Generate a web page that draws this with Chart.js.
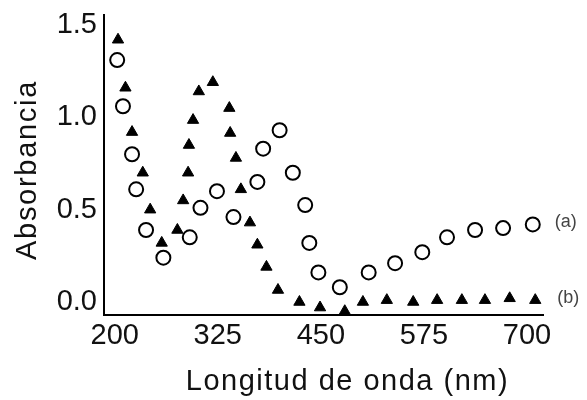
<!DOCTYPE html>
<html>
<head>
<meta charset="utf-8">
<script src="https://cdn.jsdelivr.net/npm/chart.js@4.4.1/dist/chart.umd.min.js"></script>
<style>
  body { margin: 0; background: #fff; }
</style>
</head>
<body>
<canvas id="myChart" width="587" height="400"></canvas>
<script>
// series (a): open circles
var waveA = [203, 210, 221, 226, 238, 259, 291, 304, 324, 344, 373, 380, 400, 416, 431, 436, 447, 473, 508, 540, 573, 603, 637, 671, 707];
var absA  = [1.31, 1.06, 0.80, 0.61, 0.39, 0.24, 0.35, 0.51, 0.60, 0.46, 0.65, 0.83, 0.93, 0.70, 0.525, 0.32, 0.16, 0.08, 0.16, 0.21, 0.27, 0.35, 0.39, 0.40, 0.42];

// series (b): filled triangles
var waveB = [204, 213, 221, 234, 243, 257, 276, 283, 289, 290, 295, 302, 319, 339, 340, 347, 353, 364, 373, 384, 398, 424, 449, 479, 501, 530, 562, 591, 621, 649, 679, 710];
var absB  = [1.42, 1.16, 0.92, 0.70, 0.50, 0.32, 0.39, 0.55, 0.70, 0.85, 0.985, 1.14, 1.19, 1.05, 0.915, 0.78, 0.61, 0.43, 0.31, 0.19, 0.065, 0.0, -0.03, -0.05, 0.0, 0.01, 0.0, 0.01, 0.01, 0.01, 0.02, 0.01];

var seriesNames = ['(a)', '(b)'];
var xTicks = [200, 325, 450, 575, 700];
var yTicks = [0, 0.5, 1.0, 1.5];
var xTitle = 'Longitud de onda (nm)';
var yTitle = 'Absorbancia';

function toPoints(xs, ys) {
    var pts = [];
    for (var i = 0; i < xs.length; i++) {
        pts.push({x: xs[i], y: ys[i]});
    }
    return pts;
}

// axis titles (drawn by hand so the letter spacing can be widened) and (a)/(b) tags
var extraText = {
    id: 'extraText',
    afterDraw: function (chart) {
        var ctx = chart.ctx;
        var area = chart.chartArea;
        ctx.save();
        ctx.fillStyle = '#111';
        ctx.textAlign = 'center';
        ctx.textBaseline = 'middle';
        ctx.font = '29px "Liberation Sans", Arial, sans-serif';
        ctx.letterSpacing = '1.5px';
        ctx.fillText(xTitle, (area.left + area.right) / 2 + 24, 382);

        ctx.translate(28, (area.top + area.bottom) / 2 + 5);
        ctx.rotate(-Math.PI / 2);
        ctx.letterSpacing = '1.7px';
        ctx.fillText(yTitle, 0, 0);
        ctx.restore();

        ctx.save();
        ctx.font = '18px "Liberation Sans", Arial, sans-serif';
        ctx.fillStyle = '#444';
        ctx.textAlign = 'left';
        ctx.textBaseline = 'middle';
        chart.data.datasets.forEach(function (ds, i) {
            var meta = chart.getDatasetMeta(i);
            var last = meta.data[meta.data.length - 1];
            ctx.fillText(ds.label, last.x + 22, last.y - 2);
        });
        ctx.restore();
    }
};

var ctx = document.getElementById('myChart').getContext('2d');
var myChart = new Chart(ctx, {
    type: 'scatter',
    data: {
        datasets: [{
            label: seriesNames[0],
            data: toPoints(waveA, absA),
            pointStyle: 'circle',
            pointRadius: 7,
            pointBorderWidth: 2,
            pointBorderColor: '#000',
            pointBackgroundColor: '#fff',
            clip: false
        }, {
            label: seriesNames[1],
            data: toPoints(waveB, absB),
            pointStyle: 'triangle',
            pointRadius: 6.5,
            pointBorderWidth: 1,
            pointBorderColor: '#000',
            pointBackgroundColor: '#000',
            clip: false
        }]
    },
    options: {
        responsive: false,
        animation: false,
        devicePixelRatio: 1,
        layout: {
            padding: {top: 15, right: 44, left: 0, bottom: 0}
        },
        plugins: {
            legend: {display: false},
            tooltip: {enabled: false}
        },
        scales: {
            x: {
                type: 'linear',
                min: 187,
                max: 719.4,
                grid: {display: false, drawTicks: false},
                border: {display: true, color: '#000', width: 2},
                afterBuildTicks: function (scale) {
                    scale.ticks = xTicks.map(function (v) { return {value: v}; });
                },
                afterFit: function (scale) {
                    scale.height = 85;
                    scale.paddingLeft = 0;
                    scale.paddingRight = 0;
                },
                ticks: {
                    color: '#111',
                    padding: 4,
                    maxRotation: 0,
                    font: {family: 'Liberation Sans', size: 29}
                }
            },
            y: {
                type: 'linear',
                min: -0.0704,
                max: 1.554,
                grid: {display: false, drawTicks: false},
                border: {display: true, color: '#000', width: 2},
                afterBuildTicks: function (scale) {
                    scale.ticks = yTicks.map(function (v) { return {value: v}; });
                },
                afterFit: function (scale) {
                    scale.width = 104;
                    scale.paddingTop = 0;
                    scale.paddingBottom = 0;
                },
                ticks: {
                    color: '#111',
                    padding: 7,
                    font: {family: 'Liberation Sans', size: 29},
                    callback: function (v) { return v.toFixed(1); }
                }
            }
        }
    },
    plugins: [extraText]
});
</script>
</body>
</html>
